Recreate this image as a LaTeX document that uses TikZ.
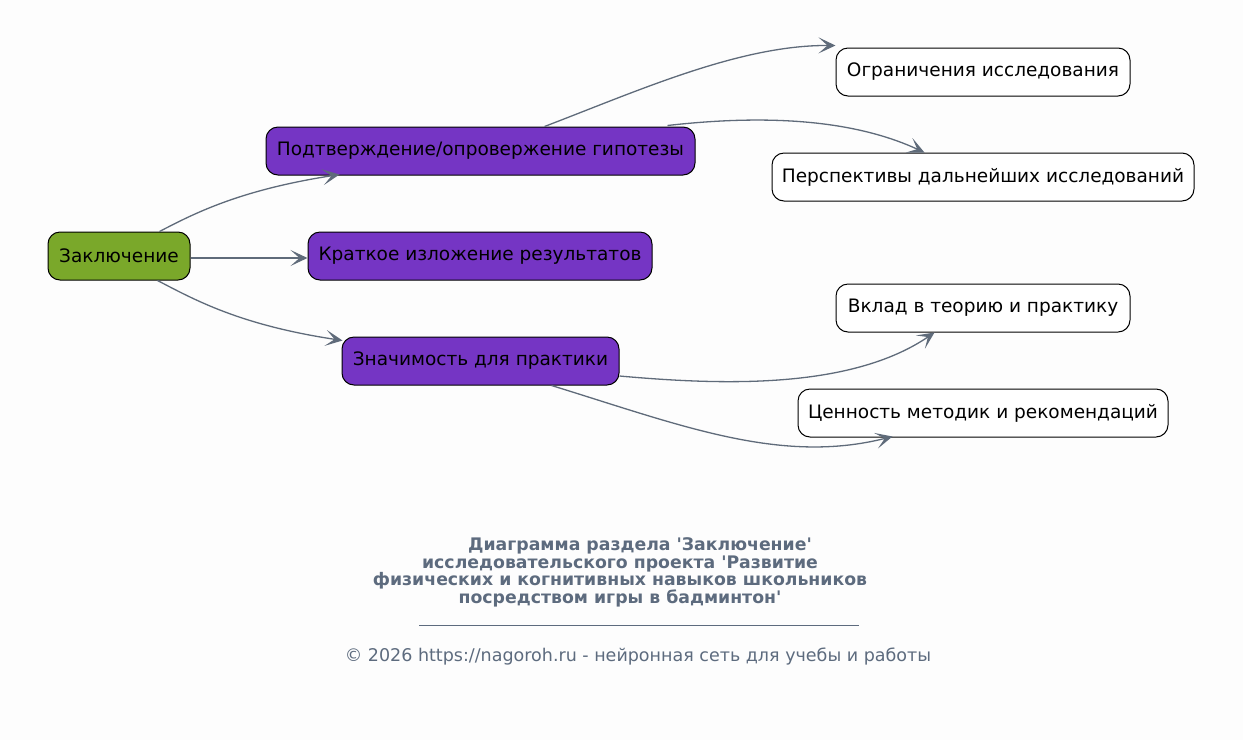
\documentclass[tikz,border=0pt]{standalone}
\usepackage{fontspec}
\setmainfont{DejaVu Sans}[Ligatures=TeXOff]
\usetikzlibrary{arrows.meta,calc}
\definecolor{bg}{RGB}{253,253,253}
\definecolor{rootc}{RGB}{122,168,42}
\definecolor{midc}{RGB}{117,53,196}
\definecolor{edgec}{RGB}{95,107,122}
\definecolor{titlec}{RGB}{93,107,126}
\tikzset{
  box/.style={draw=black, line width=1pt, rounded corners=12pt, minimum height=48pt, inner sep=0pt, font=\fontsize{18.5}{21}\selectfont, text=black},
  rootbox/.style={box, fill=rootc},
  midbox/.style={box, fill=midc},
  leafbox/.style={box, fill=white},
  conn/.style={draw=edgec, line width=1.3pt, -{Stealth[length=17pt, width=16pt, inset=9pt]}},
  ttl/.style={text=titlec, font=\fontsize{17.3}{19}\selectfont\bfseries, inner sep=0pt},
  foot/.style={text=titlec, font=\fontsize{17.5}{19}\selectfont, inner sep=0pt},
}
\begin{document}
\begin{tikzpicture}[x=1pt, y=-1pt]
\fill[bg] (0,0) rectangle (1243,740);
\useasboundingbox (0,0) rectangle (1243,740);

\node[rootbox, minimum width=142pt] (root) at (119,256) {Заключение};
\node[midbox, minimum width=429pt] (hyp) at (480.5,151) {Подтверждение/опровержение гипотезы};
\node[midbox, minimum width=344pt] (sum) at (480,256) {Краткое изложение результатов};
\node[midbox, minimum width=277pt] (sig) at (480.5,361) {Значимость для практики};
\node[leafbox, minimum width=294pt] (lim) at (983,72) {Ограничения исследования};
\node[leafbox, minimum width=422pt] (per) at (983,177) {Перспективы дальнейших исследований};
\node[leafbox, minimum width=294pt] (con) at (983,308) {Вклад в теорию и практику};
\node[leafbox, minimum width=370pt] (val) at (983,413) {Ценность методик и рекомендаций};

\draw[conn] ($(root.north west)+(112,0)$) .. controls (195,213) and (240,190) .. ($(hyp.south west)+(74,-1)$);
\draw[conn] ($(root.east)+(0,2)$) -- ($(sum.west)+(0,2)$);
\draw[conn] ($(root.south west)+(110,0)$) .. controls (195,300) and (240,325) .. ($(sig.north west)+(1,4)$);
\draw[conn] ($(hyp.north west)+(279,0)$) .. controls (640,90) and (740,45) .. ($(lim.north west)+(0,-2)$);
\draw[conn] ($(hyp.north west)+(402,-1)$) .. controls (760,115) and (850,118) .. ($(per.north west)+(153,0)$);
\draw[conn] ($(sig.east)+(0,15)$) .. controls (720,385) and (850,390) .. ($(con.south west)+(99,0)$);
\draw[conn] ($(sig.south west)+(210,0)$) .. controls (680,425) and (780,465) .. ($(val.south west)+(95,-1)$);

\node[ttl] (t1) at (640,546) {Диаграмма раздела 'Заключение'};
\node[ttl] (t2) at (620,564) {исследовательского проекта 'Развитие};
\node[ttl] (t3) at (620,581) {физических и когнитивных навыков школьников};
\node[ttl] (t4) at (620,598) {посредством игры в бадминтон'};
\draw[titlec, line width=0.6pt] (419,625) coordinate (u1) -- (859,625) coordinate (u2);
\node[foot] (ft) at (638,657) {© 2026 https://nagoroh.ru - нейронная сеть для учебы и работы};
\end{tikzpicture}
\end{document}
